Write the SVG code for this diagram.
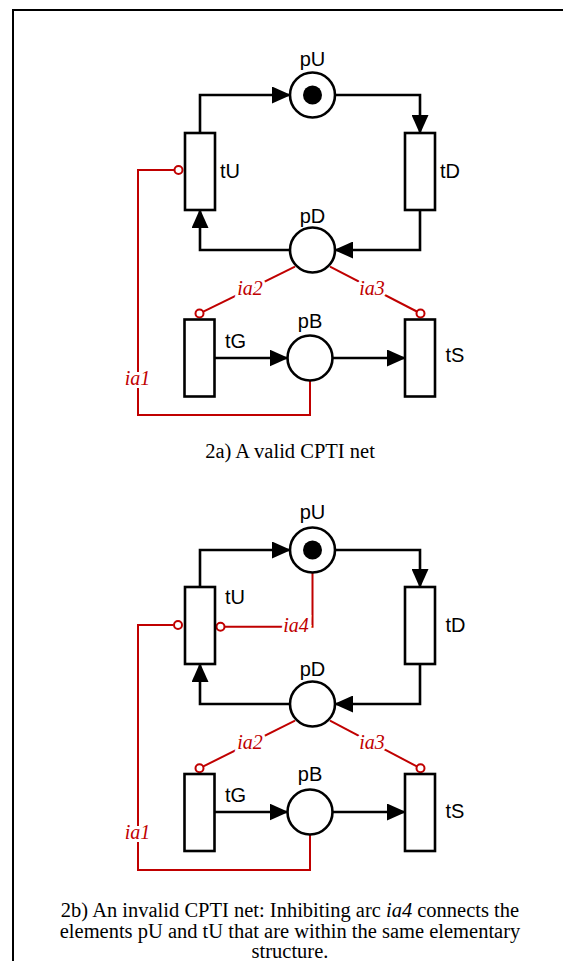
<svg xmlns="http://www.w3.org/2000/svg" width="563" height="961" viewBox="0 0 563 961">
<style>
.place{fill:#fff;stroke:#000;stroke-width:2.6}
.tok{fill:#000}
.trans{fill:#fff;stroke:#000;stroke-width:2.6}
.arc{fill:none;stroke:#000;stroke-width:2.6;marker-end:url(#arr)}
.inh{fill:none;stroke:#c00000;stroke-width:2}
.inhc{fill:#fff;stroke:#c00000;stroke-width:2}
.lbl{font-family:"Liberation Sans",Arial,sans-serif;font-size:20px;fill:#000}
.ilbl{font-family:"Liberation Serif","Times New Roman",serif;font-style:italic;font-size:20px;fill:#c00000;stroke:#fff;stroke-width:6;paint-order:stroke;text-anchor:middle}
.cap{font-family:"Liberation Serif","Times New Roman",serif;font-size:20.5px;fill:#000;text-anchor:middle}
.mid{text-anchor:middle}
</style>
<defs>
<marker id="arr" markerUnits="userSpaceOnUse" markerWidth="19" markerHeight="17" viewBox="0 0 19 17" refX="18" refY="8.5" orient="auto">
<path d="M0,0 L19,8.5 L0,17 z" fill="#000"/>
</marker>
</defs>
<rect x="13" y="10" width="600" height="1000" fill="#fff" stroke="#000" stroke-width="2"/>

<!-- Diagram 2a -->
<g id="connectors-a">
<path class="arc" d="M200,133 V95 H290"/>
<path class="arc" d="M335,95 H420 V133"/>
<path class="arc" d="M420,210 V250 H335"/>
<path class="arc" d="M290,250 H200 V210"/>
<path class="arc" d="M214.5,358 H287.5"/>
<path class="arc" d="M332.5,358 H405"/>
<path class="inh" d="M310,380.5 V415 H138 V170 H174"/>
<circle class="inhc" cx="178.5" cy="170" r="4"/>
<path class="inh" d="M295,266.7 L203.3,311.6"/>
<circle class="inhc" cx="199.5" cy="313.5" r="4"/>
<path class="inh" d="M330,266.7 L416.8,311.5"/>
<circle class="inhc" cx="420.5" cy="313.5" r="4"/>
<text class="ilbl" x="250" y="295">ia2</text>
<text class="ilbl" x="372" y="295">ia3</text>
<text class="ilbl" x="137.5" y="385">ia1</text>
</g>
<g id="a-pU"><circle class="place" cx="312.5" cy="95" r="22.5"/><circle class="tok" cx="312.5" cy="95" r="9.5"/><text class="lbl mid" x="312.5" y="66">pU</text></g>
<g id="a-tU"><rect class="trans" x="185" y="133" width="30" height="77"/><text class="lbl" x="220" y="177.5">tU</text></g>
<g id="a-tD"><rect class="trans" x="405" y="133" width="30" height="77"/><text class="lbl" x="440" y="178">tD</text></g>
<g id="a-pD"><circle class="place" cx="312.5" cy="250" r="22.5"/><text class="lbl mid" x="312.5" y="222.5">pD</text></g>
<g id="a-tG"><rect class="trans" x="184.5" y="319.5" width="30" height="77"/><text class="lbl" x="225" y="348">tG</text></g>
<g id="a-pB"><circle class="place" cx="310" cy="358" r="22.5"/><text class="lbl mid" x="310" y="327.5">pB</text></g>
<g id="a-tS"><rect class="trans" x="405" y="319.5" width="30" height="77"/><text class="lbl" x="445.5" y="361.5">tS</text></g>
<text class="cap" x="290" y="458">2a) A valid CPTI net</text>

<!-- Diagram 2b -->
<g id="connectors-b">
<path class="arc" d="M200,587 V550 H290"/>
<path class="arc" d="M335,550 H420 V587"/>
<path class="arc" d="M420,664 V704 H335"/>
<path class="arc" d="M290,704 H200 V664"/>
<path class="arc" d="M214.5,812 H287.5"/>
<path class="arc" d="M332.5,812 H405"/>
<path class="inh" d="M310,834.5 V870 H138 V625 H173.5"/>
<circle class="inhc" cx="178" cy="625" r="4"/>
<path class="inh" d="M312.5,572.5 V626.7 H225"/>
<circle class="inhc" cx="220.5" cy="626.7" r="4"/>
<path class="inh" d="M295,720.7 L203.3,766.4"/>
<circle class="inhc" cx="199.5" cy="768.3" r="4"/>
<path class="inh" d="M330,720.7 L416.8,766.4"/>
<circle class="inhc" cx="420.5" cy="768.3" r="4"/>
<text class="ilbl" x="250" y="749">ia2</text>
<text class="ilbl" x="372" y="749">ia3</text>
<text class="ilbl" x="137.5" y="838.5">ia1</text>
<text class="ilbl" x="296" y="632">ia4</text>
</g>
<g id="b-pU"><circle class="place" cx="312.5" cy="550" r="22.5"/><circle class="tok" cx="312.5" cy="550" r="9.5"/><text class="lbl mid" x="312.5" y="519">pU</text></g>
<g id="b-tU"><rect class="trans" x="185" y="587" width="30" height="77"/><text class="lbl" x="225" y="604">tU</text></g>
<g id="b-tD"><rect class="trans" x="405" y="587" width="30" height="77"/><text class="lbl" x="445.5" y="632">tD</text></g>
<g id="b-pD"><circle class="place" cx="312.5" cy="704" r="22.5"/><text class="lbl mid" x="312.5" y="676">pD</text></g>
<g id="b-tG"><rect class="trans" x="184.5" y="774" width="30" height="77"/><text class="lbl" x="225" y="802">tG</text></g>
<g id="b-pB"><circle class="place" cx="310" cy="812" r="22.5"/><text class="lbl mid" x="310" y="781">pB</text></g>
<g id="b-tS"><rect class="trans" x="405" y="774" width="30" height="77"/><text class="lbl" x="445.5" y="818">tS</text></g>
<text class="cap" x="290" y="917">2b) An invalid CPTI net: Inhibiting arc <tspan font-style="italic">ia4</tspan> connects the</text>
<text class="cap" x="290" y="938">elements pU and tU that are within the same elementary</text>
<text class="cap" x="290" y="958">structure.</text>
</svg>
